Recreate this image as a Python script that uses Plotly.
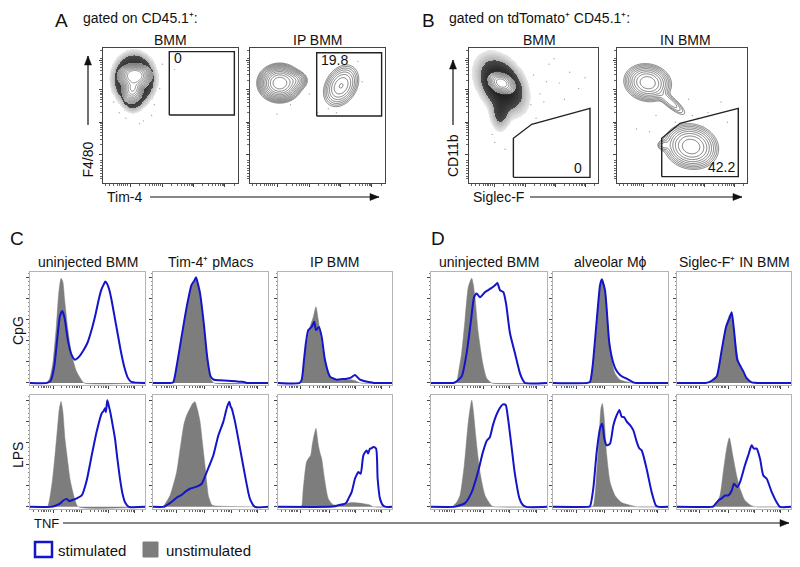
import numpy as np
import plotly.graph_objects as go

# the page is shown with the browser's default 8px body margin, so the figure is
# sized to the visible area and reference pixel positions are shifted by that margin
OFF = 8
W, H = 800 - OFF, 567 - OFF
FONT = "Liberation Sans, Arial, sans-serif"
BLUE = "#1414c8"
GRAY = "#7d7d7d"

# ---------------- flow panels: population parameters (cx, cy, sx, sy, rho, weight) ----------------
A1_core = [(23.5, 79.5, 4.6, 3.3, 0.0, 1.0), (22.0, 70.0, 3.3, 4.4, 0.1, 0.4)]
A1_dots = [(23.0, 77.0, 7.0, 8.5, 0.0, 1.0), (22.0, 62.0, 4.0, 5.0, 0.0, 0.2)]
A2_core = [(22.0, 74.0, 5.5, 4.8, 0.0, 1.0), (33.0, 76.0, 4.0, 3.0, 0.0, 0.12),
           (67.5, 72.0, 5.5, 6.5, 0.3, 0.14)]
B1_core = [(25.3, 74.0, 4.5, 3.4, -0.3, 1.0)]
B1_dots = [(25.0, 73.0, 9.0, 10.0, -0.35, 1.0), (24.0, 52.0, 4.0, 7.0, 0.0, 0.3)]
B2_core = [(23.6, 74.3, 6.5, 5.0, -0.1, 1.0), (41.0, 60.0, 6.0, 5.0, -0.85, 0.1),
           (57.0, 27.0, 7.5, 6.0, -0.1, 1.0), (36.0, 28.0, 2.5, 2.0, 0.0, 0.08)]

# gates
A1_gate_x = [49.1, 97.3, 97.3, 49.1, 49.1]
A1_gate_y = [50.4, 50.4, 97.3, 97.3, 50.4]
A2_gate_x = [49.4, 97.5, 97.5, 49.4, 49.4]
A2_gate_y = [49.6, 49.6, 96.5, 96.5, 49.6]
B1_gate_x = [34.4, 34.4, 48.6, 93.8, 93.8, 34.4]
B1_gate_y = [4.2, 33.1, 43.5, 55.3, 4.2, 4.2]
B2_gate_x = [34.4, 34.4, 48.5, 93.3, 93.3, 34.4]
B2_gate_y = [4.7, 33.1, 44.2, 55.3, 4.7, 4.7]
gate_labels = ["0", "19.8", "0", "42.2"]
gate_label_pos = [(55.3, 92.3), (62.5, 91.0), (84.7, 11.3), (80.5, 12.0)]

# sparse dots
A1_sparse_x = [30, 36, 12, 42, 44, 53, 8, 38, 27, 17]
A1_sparse_y = [46, 50, 52, 70, 88, 84, 60, 58, 44, 48]
A2_sparse_x = [20, 44, 50, 58, 80, 64, 30, 83]
A2_sparse_y = [51, 66, 52, 55, 90, 52, 58, 75]
B1_sparse_x = [50, 55, 62, 70, 78, 85, 58, 66, 48, 74, 90, 20, 28, 18, 52, 60]
B1_sparse_y = [80, 66, 88, 74, 82, 70, 60, 92, 58, 62, 78, 30, 25, 36, 48, 75]
B2_sparse_x = [50, 58, 62, 45, 30, 25, 70, 80, 85, 15, 55, 66]
B2_sparse_y = [55, 50, 48, 45, 50, 38, 52, 60, 45, 40, 62, 42]

# ---------------- histograms (x, y key points) ----------------
C1_cpg_g_x = [0, 14, 17, 20, 23, 25, 27, 28.5, 30, 33, 36, 40, 44, 47, 100]
C1_cpg_g_y = [0, 0, 4, 20, 55, 85, 99, 96, 80, 50, 28, 12, 4, 0, 0]
C1_cpg_b_x = [0, 15, 18, 21, 24, 26, 28, 30, 33, 36, 39, 42, 46, 50, 54, 57, 60, 62, 64, 65.5, 67, 69, 71, 73, 76, 79, 82, 85, 88, 100]
C1_cpg_b_y = [0, 0, 2, 15, 45, 63, 68, 62, 40, 27, 22, 24, 30, 38, 52, 65, 80, 88, 93, 96, 94, 88, 78, 66, 48, 30, 15, 5, 1, 0]
C1_lps_g_x = [0, 15, 17, 19.5, 21.7, 24, 25.5, 27, 28.5, 30.4, 32.5, 34.8, 37, 39, 42, 100]
C1_lps_g_y = [0, 0, 7, 25, 48, 75, 92, 99, 90, 64, 45, 26, 15, 7, 0, 0]
C1_lps_b_x = [0, 18, 22, 26, 29, 31.9, 34, 37, 40.6, 45, 49.3, 53.6, 58, 62.3, 64, 65.2, 66, 67.2, 68.5, 70, 72, 73.9, 76, 78.3, 80.5, 82.6, 86, 100]
C1_lps_b_y = [0, 0, 1, 3, 6, 7.5, 5.5, 6.5, 8, 10.7, 24.8, 48, 70.7, 87.7, 90, 92.5, 89, 100, 95, 88, 76, 64, 45, 26, 12, 4.4, 0, 0]

C2_cpg_g_x = [0, 16, 17.7, 20.6, 24.9, 29.3, 33.6, 36, 37.4, 39, 40.9, 44.3, 47.2, 50.1, 53, 100]
C2_cpg_g_y = [0, 0, 0.5, 15, 43, 72, 92, 97, 99, 93, 84, 53, 22, 4, 0, 0]
C2_cpg_b_x = [0, 16, 17.7, 20.6, 24.9, 29.3, 33.6, 36, 37.4, 39, 40.9, 44.3, 47.2, 50.1, 53, 58, 65, 72, 78, 82, 100]
C2_cpg_b_y = [0, 0, 0.8, 16, 44, 72, 93, 97, 100, 94, 85, 55, 24, 6, 3, 2.5, 2, 1.5, 1, 0, 0]
C2_lps_g_x = [0, 8, 10, 14.8, 17.5, 20.6, 23, 24.9, 27, 29.3, 32, 34.5, 36.5, 38.5, 40.9, 43, 45.2, 47, 48.1, 51, 53, 100]
C2_lps_g_y = [0, 0, 2, 10.7, 20, 32.7, 50, 64, 78, 86, 92, 97, 98.7, 92, 80, 60, 39, 20, 10.7, 2, 1, 0]
C2_lps_b_x = [0, 9, 10.4, 14, 17.7, 21, 24.9, 28.5, 32.2, 35, 38, 42.3, 46.7, 49.5, 52.5, 56.8, 61.2, 63.5, 65, 66.4, 67.5, 68.4, 71.3, 75.7, 80, 84.3, 88.7, 100]
C2_lps_b_y = [0, 0, 0.5, 3, 6, 9, 11.3, 14.5, 17, 18, 19, 21.7, 32.7, 40, 48.4, 67, 80, 90, 95.6, 98.7, 94, 92.5, 80, 54.7, 29.5, 7.5, 0, 0]

C3_cpg_g_x = [0, 19, 20.8, 23.7, 26, 28, 31, 33.3, 35, 36.3, 38, 39.8, 42, 44.2, 48.5, 52, 56, 60, 64, 68, 72, 100]
C3_cpg_g_y = [0, 0, 3, 28, 42, 53, 62.5, 72, 62, 53, 40, 28, 16, 9, 3, 2.5, 2.5, 3, 3, 2, 0, 0]
C3_cpg_b_x = [0, 19, 20.8, 22.8, 24.5, 26.6, 29.5, 31.8, 33.3, 35.9, 38.3, 41.2, 45.6, 51.5, 56, 60.2, 64, 67.5, 71.9, 76.3, 80.7, 84, 100]
C3_cpg_b_y = [0, 0, 3, 21.7, 38, 50, 53, 57.8, 50, 53, 43.7, 21.7, 6, 3, 3.5, 4, 5, 7.5, 3, 1.5, 0.5, 0, 0]
C3_lps_g_x = [0, 19, 20.8, 22, 23.7, 25, 26.6, 28.7, 30, 31, 33.3, 34.5, 35.4, 37, 38.3, 41.2, 44.2, 48.5, 55, 65, 75, 80, 84, 100]
C3_lps_g_y = [0, 0, 1, 15, 32.7, 42, 45.3, 48.4, 58, 64, 73.6, 65, 57.8, 50, 45.3, 23.3, 7.5, 2, 2, 4, 3, 2, 0, 0]
C3_lps_b_x = [0, 45, 50, 54.4, 57.3, 60, 61.7, 64.6, 67.5, 69, 70.5, 72.5, 74.9, 77.8, 79, 80.7, 82, 83.6, 86, 87.4, 89.5, 92.4, 95, 100]
C3_lps_b_y = [0, 0, 0.5, 2, 2.5, 4, 7.5, 13.8, 26.4, 30, 32.7, 31, 48.4, 53, 50, 54.7, 55, 56.3, 54.7, 26.4, 7.5, 1, 0, 0]

D1_cpg_g_x = [0, 18, 22.1, 24, 26.4, 29.3, 32.2, 35.1, 36.5, 37.9, 40.8, 44.6, 48, 52.3, 100]
D1_cpg_g_y = [0, 0, 1.5, 12, 28, 59.4, 91, 99, 93, 81, 47, 18.6, 4.4, 0, 0]
D1_cpg_b_x = [0, 19, 20.7, 26.4, 30.7, 34.5, 37.1, 39.4, 42.2, 46.6, 50.9, 55.2, 57.2, 59.5, 62.4, 64.7, 68.1, 72.4, 76.7, 79, 81, 100]
D1_cpg_b_y = [0, 0, 0.5, 6, 28, 59.4, 81, 84.6, 81, 86, 89, 92.5, 94.6, 87.7, 86, 75, 47, 28, 9, 3, 0, 0]
D1_lps_g_x = [0, 17, 19.2, 22, 25, 28.7, 32.2, 35.1, 36.5, 38.8, 42.2, 46.6, 52.3, 56, 100]
D1_lps_g_y = [0, 0, 1, 4, 10.7, 39, 80, 100, 90, 64, 32.7, 10.7, 1, 0, 0]
D1_lps_b_x = [0, 20, 22.1, 29.3, 35.1, 40.5, 44.8, 48.3, 50.6, 53.4, 56.3, 59.2, 62.1, 64.4, 66.4, 69.3, 72.1, 76.4, 79, 82.2, 100]
D1_lps_b_y = [0, 0, 0.5, 3.5, 13.8, 32.7, 51.6, 62.5, 65, 76.7, 86, 92.5, 96.2, 95.6, 83, 57.8, 32.7, 7.5, 2, 0, 0]

D2_cpg_g_x = [0, 30, 32.2, 35, 38, 40.9, 42.9, 45.2, 48.1, 51, 53.9, 58.3, 64.1, 68, 100]
D2_cpg_g_y = [0, 0, 1, 18.6, 53, 91, 99, 87.7, 50, 21.7, 9, 3, 1, 0, 0]
D2_cpg_b_x = [0, 30, 32.2, 34.4, 38, 40.9, 42.3, 45.2, 49, 52.5, 55, 58.3, 61, 64.1, 69.8, 72, 100]
D2_cpg_b_y = [0, 0, 1, 15.4, 59, 92.5, 98, 87.7, 37.5, 18.6, 12, 7.5, 5.5, 4, 0.5, 0, 0]
D2_lps_g_x = [0, 32, 35, 38, 40, 41.7, 42.9, 44.3, 46.7, 49.6, 53.9, 59.7, 67, 73, 100]
D2_lps_g_y = [0, 0, 1, 32.7, 64, 92.5, 97, 86, 48.4, 23.3, 10.7, 4, 1.5, 0, 0]
D2_lps_b_x = [0, 30, 32.2, 35, 38, 40.9, 42.9, 44.6, 46.7, 49.6, 52.5, 55.4, 57.7, 59.7, 62, 64.1, 67, 69.8, 72.8, 75, 77.1, 81.4, 85.8, 89.6, 92, 100]
D2_lps_b_y = [0, 0, 0.5, 17, 51.6, 73.6, 78, 64, 57.8, 59.4, 76.7, 86, 91, 84.6, 84, 80, 76.7, 72, 61, 55, 53, 35.8, 13.8, 1, 0, 0]

D3_cpg_g_x = [0, 25, 27.5, 31, 34.8, 39.2, 43, 45.9, 47.4, 50.3, 53.8, 58.2, 62.5, 66, 100]
D3_cpg_g_y = [0, 0, 0.5, 2.5, 6, 28, 53, 64, 65.7, 47, 21.7, 9, 3, 0, 0]
D3_cpg_b_x = [0, 25, 27.5, 31, 34.8, 39.2, 43, 46.5, 48, 50, 52.9, 55.9, 58.2, 61.1, 65.5, 70, 100]
D3_cpg_b_y = [0, 0, 0.5, 2.5, 6, 31, 53, 62.5, 67, 50, 21.7, 15.4, 10.7, 4.4, 0.5, 0, 0]
D3_lps_g_x = [0, 31, 33.3, 37.7, 40.6, 43.6, 45.9, 48.9, 52.3, 55.3, 59.6, 65.5, 69, 100]
D3_lps_g_y = [0, 0, 0.5, 10.7, 32.7, 55, 64.8, 48.4, 29.5, 17, 6, 1, 0, 0]
D3_lps_b_x = [0, 30, 31.9, 36.3, 39.2, 42.1, 45, 48, 50, 52.9, 55.3, 59.6, 62.5, 65.5, 67.5, 69.9, 72.8, 75.7, 78.7, 83.1, 87.4, 90.4, 100]
D3_lps_b_y = [0, 0, 0.5, 6, 8, 10.7, 10.7, 15.4, 21.7, 18.6, 23.3, 39, 48.4, 57.8, 54.7, 54.7, 45.3, 29.5, 26.4, 13.8, 4.4, 0, 0]

SUP = "\u207a"
hist_titles_C = ["uninjected BMM", "Tim-4" + SUP + " pMacs", "IP BMM"]
hist_titles_D = ["uninjected BMM", "alveolar M\u03d5", "Siglec-F" + SUP + " IN BMM"]
row_labels = ["CpG", "LPS"]
legend_labels = ["stimulated", "unstimulated"]

# ---------------- layout geometry (reference pixels) ----------------
flow_boxes = {1: (103, 238, 48, 183), 2: (250, 385, 48, 183),
              3: (469, 598, 48, 183), 4: (617, 747, 48, 183)}
hist_cols = [(30, 145), (153, 268), (278, 392), (431, 547), (553, 668), (677, 791)]
hist_rows = [(272, 385), (395, 509)]

def px(x):
    return (x - OFF) / W

def py(y):
    return 1 - (y - OFF) / H

fig = go.Figure()
layout = dict(width=W, height=H, margin=dict(l=0, r=0, t=0, b=0),
              paper_bgcolor="white", plot_bgcolor="white", showlegend=False,
              font=dict(family=FONT, color="#111"))

def log_minor(majors, width, top):
    vals = []
    for d in majors:
        for k in range(2, 10):
            v = d + width * np.log10(k)
            if v < top:
                vals.append(round(float(v), 2))
    return vals

flow_x_major = [20, 44, 67, 90]
flow_y_major = [21, 45, 69, 91]
flow_x_minor = [2, 5, 8, 11, 12.5, 14, 15.5, 17, 18.5] + log_minor(flow_x_major, 23.5, 100)
flow_y_minor = [3, 5, 7, 9, 11, 13, 15, 17] + log_minor(flow_y_major, 24, 100)
hist_x_major = [20, 45, 68, 91]
hist_x_minor = [3, 7, 10, 11.5, 13, 14.5, 16, 17.5] + log_minor(hist_x_major, 24, 100)

def add_axes(i, xd, yd, xr, yr, linecolor, xmaj, xmin, ymaj, ymin_cfg):
    sfx = "" if i == 1 else str(i)
    xa = dict(domain=[max(0, px(xd[0])), min(1, px(xd[1]))], range=xr, showgrid=False,
              zeroline=False, showline=True, mirror=True, linecolor=linecolor, linewidth=1,
              ticks="outside", ticklen=3, tickwidth=1, tickcolor="#444",
              tickmode="array", tickvals=xmaj, showticklabels=False,
              minor=dict(tickmode="array", tickvals=xmin, ticks="outside", ticklen=2,
                         tickcolor="#666", tickwidth=0.8),
              anchor="y" + sfx, fixedrange=True)
    ya = dict(domain=[max(0, py(yd[1])), min(1, py(yd[0]))], range=yr, showgrid=False,
              zeroline=False, showline=True, mirror=True, linecolor=linecolor, linewidth=1,
              ticks="outside", ticklen=3, tickwidth=1, tickcolor="#444",
              tickmode="array", tickvals=ymaj, showticklabels=False,
              minor=ymin_cfg, anchor="x" + sfx, fixedrange=True)
    layout["xaxis" + sfx] = xa
    layout["yaxis" + sfx] = ya
    return ("x" + sfx, "y" + sfx)

gx = np.linspace(0, 100, 251)
gy = np.linspace(0, 100, 251)
GX, GY = np.meshgrid(gx, gy)

def mixture(pops):
    Z = np.zeros_like(GX)
    for cx, cy, sx, sy, rho, w in pops:
        dx = (GX - cx) / sx
        dy = (GY - cy) / sy
        Z += w * np.exp(-(dx * dx - 2 * rho * dx * dy + dy * dy) / (2 * (1 - rho * rho)))
    return np.log(Z / Z.max() + 1e-30)

def shade(xa, ya, field, lo, mid):
    """dot cloud: transparent below lo, light gray up to mid, near black above."""
    z = np.where(field > lo, field, np.nan)
    t = (mid - lo) / (0 - lo)
    cs = [[0, "rgba(170,170,170,0.25)"], [t * 0.999, "rgba(110,110,110,0.55)"],
          [t, "rgba(30,30,30,0.8)"], [1, "rgba(10,10,10,0.95)"]]
    fig.add_trace(go.Heatmap(x=gx, y=gy, z=z, xaxis=xa, yaxis=ya, colorscale=cs,
                             zmin=lo, zmax=0, showscale=False, hoverinfo="skip", zsmooth=False))

def white_core(xa, ya, field, lo):
    z = np.where(field > lo, 1.0, np.nan)
    fig.add_trace(go.Heatmap(x=gx, y=gy, z=z, xaxis=xa, yaxis=ya,
                             colorscale=[[0, "white"], [1, "white"]], zmin=0, zmax=1,
                             showscale=False, hoverinfo="skip", zsmooth=False))

def rings(xa, ya, field, start, end, size, color="#3a3a3a", width=0.7):
    fig.add_trace(go.Contour(x=gx, y=gy, z=field, xaxis=xa, yaxis=ya,
                             contours=dict(start=start, end=end, size=size, coloring="lines"),
                             colorscale=[[0, color], [1, color]], line=dict(width=width),
                             showscale=False, hoverinfo="skip", line_smoothing=1))

def sparse(xa, ya, xs, ys):
    fig.add_trace(go.Scatter(x=xs, y=ys, xaxis=xa, yaxis=ya, mode="markers",
                             marker=dict(size=1.4, color="#a8a8a8"), hoverinfo="skip"))

def gate(xa, ya, xs, ys):
    fig.add_trace(go.Scatter(x=xs, y=ys, xaxis=xa, yaxis=ya, mode="lines",
                             line=dict(color="#222", width=1.4), hoverinfo="skip"))

flow_ymin = dict(tickmode="array", tickvals=flow_y_minor, ticks="outside", ticklen=2,
                 tickcolor="#666", tickwidth=0.8)
flow_axes = {}
for i, (x0, x1, y0, y1) in flow_boxes.items():
    flow_axes[i] = add_axes(i, (x0, x1), (y0, y1), [0, 100], [0, 100], "#444",
                            flow_x_major, flow_x_minor, flow_y_major, flow_ymin)

# A1
xa, ya = flow_axes[1]
sparse(xa, ya, A1_sparse_x, A1_sparse_y)
shade(xa, ya, mixture(A1_dots), -3.4, -2.1)
fc = mixture(A1_core)
white_core(xa, ya, fc, -4.3)
rings(xa, ya, fc, -4.3, -0.4, 0.36, color="#444", width=0.6)
gate(xa, ya, A1_gate_x, A1_gate_y)
# A2
xa, ya = flow_axes[2]
sparse(xa, ya, A2_sparse_x, A2_sparse_y)
fc = mixture(A2_core)
rings(xa, ya, fc, -4.8, -0.4, 0.4, color="#444")
gate(xa, ya, A2_gate_x, A2_gate_y)
# B1
xa, ya = flow_axes[3]
sparse(xa, ya, B1_sparse_x, B1_sparse_y)
shade(xa, ya, mixture(B1_dots), -3.2, -1.6)
fc = mixture(B1_core)
white_core(xa, ya, fc, -3.0)
rings(xa, ya, fc, -3.0, -0.4, 0.37, color="#555")
gate(xa, ya, B1_gate_x, B1_gate_y)
# B2
xa, ya = flow_axes[4]
sparse(xa, ya, B2_sparse_x, B2_sparse_y)
fc = mixture(B2_core)
rings(xa, ya, fc, -4.0, -0.4, 0.45, color="#444")
gate(xa, ya, B2_gate_x, B2_gate_y)

annotations = []
for i, (lab, (lx, ly)) in enumerate(zip(gate_labels, gate_label_pos)):
    xa, ya = flow_axes[i + 1]
    annotations.append(dict(x=lx, y=ly, xref=xa, yref=ya, text=lab, showarrow=False,
                            font=dict(size=14, family=FONT, color="#111")))

# histograms
hist_data = [
    [(C1_cpg_g_x, C1_cpg_g_y, C1_cpg_b_x, C1_cpg_b_y), (C1_lps_g_x, C1_lps_g_y, C1_lps_b_x, C1_lps_b_y)],
    [(C2_cpg_g_x, C2_cpg_g_y, C2_cpg_b_x, C2_cpg_b_y), (C2_lps_g_x, C2_lps_g_y, C2_lps_b_x, C2_lps_b_y)],
    [(C3_cpg_g_x, C3_cpg_g_y, C3_cpg_b_x, C3_cpg_b_y), (C3_lps_g_x, C3_lps_g_y, C3_lps_b_x, C3_lps_b_y)],
    [(D1_cpg_g_x, D1_cpg_g_y, D1_cpg_b_x, D1_cpg_b_y), (D1_lps_g_x, D1_lps_g_y, D1_lps_b_x, D1_lps_b_y)],
    [(D2_cpg_g_x, D2_cpg_g_y, D2_cpg_b_x, D2_cpg_b_y), (D2_lps_g_x, D2_lps_g_y, D2_lps_b_x, D2_lps_b_y)],
    [(D3_cpg_g_x, D3_cpg_g_y, D3_cpg_b_x, D3_cpg_b_y), (D3_lps_g_x, D3_lps_g_y, D3_lps_b_x, D3_lps_b_y)],
]
hist_ymin = dict(tickmode="linear", tick0=0, dtick=4, ticks="outside", ticklen=1.5,
                 tickcolor="#888", tickwidth=0.7)
idx = 5
for c, (cx0, cx1) in enumerate(hist_cols):
    for r, (ry0, ry1) in enumerate(hist_rows):
        xa, ya = add_axes(idx, (cx0, cx1), (ry0, ry1), [0, 100], [-2, 105], "#b4b4b4",
                          hist_x_major, hist_x_minor, [0, 20, 40, 60, 80, 100], hist_ymin)
        idx += 1
        g_x, g_y, b_x, b_y = hist_data[c][r]
        fig.add_trace(go.Scatter(x=g_x, y=g_y, xaxis=xa, yaxis=ya, mode="lines",
                                 fill="tozeroy", fillcolor=GRAY,
                                 line=dict(color=GRAY, width=0.5, shape="spline", smoothing=0.6),
                                 hoverinfo="skip"))
        fig.add_trace(go.Scatter(x=b_x, y=b_y, xaxis=xa, yaxis=ya, mode="lines",
                                 line=dict(color=BLUE, width=2, shape="spline", smoothing=0.6),
                                 hoverinfo="skip"))

def txt(x, y, s, size=13, xanchor="center", angle=0):
    annotations.append(dict(x=px(x), y=py(y), xref="paper", yref="paper", text=s,
                            showarrow=False, xanchor=xanchor, yanchor="middle",
                            textangle=angle, borderpad=0,
                            font=dict(size=size, family=FONT, color="#111")))

shapes = []

def arrow(hx, hy, tx, ty):
    shapes.append(dict(type="line", xref="paper", yref="paper",
                       x0=px(tx), y0=py(ty), x1=px(hx), y1=py(hy),
                       line=dict(color="#111", width=1.2)))
    if hx == tx:  # vertical, pointing up
        pts = [(hx, hy), (hx - 3.5, hy + 9), (hx + 3.5, hy + 9)]
    else:  # horizontal, pointing right
        pts = [(hx, hy), (hx - 9, hy - 3.5), (hx - 9, hy + 3.5)]
    path = "M " + " L ".join(f"{px(a):.5f},{py(b):.5f}" for a, b in pts) + " Z"
    shapes.append(dict(type="path", xref="paper", yref="paper", path=path,
                       fillcolor="#111", line=dict(color="#111", width=0.5)))

txt(61, 20, "A", 19)
txt(82, 18, "gated on CD45.1" + SUP + ":", 14, "left")
txt(170.5, 40, "BMM", 14)
txt(317.5, 40, "IP BMM", 14)
txt(87.5, 160, "F4/80", 14, angle=-90)
txt(106, 197, "Tim-4", 14, "left")
arrow(88, 56, 88, 125)
arrow(379, 197, 150, 197)

txt(428, 20, "B", 19)
txt(448, 18, "gated on tdTomato" + SUP + " CD45.1" + SUP + ":", 14, "left")
txt(539, 40, "BMM", 14)
txt(685, 40, "IN BMM", 14)
txt(453, 156, "CD11b", 14, angle=-90)
txt(472, 197, "Siglec-F", 14, "left")
arrow(453, 60, 453, 125)
arrow(742, 197, 530, 197)

txt(17, 238, "C", 19)
txt(438, 238, "D", 19)
for (cx0, cx1), t in zip(hist_cols[:3], hist_titles_C):
    txt((cx0 + cx1) / 2, 262, t, 14)
for (cx0, cx1), t in zip(hist_cols[3:], hist_titles_D):
    txt((cx0 + cx1) / 2, 262, t, 14)
txt(18, 331, row_labels[0], 14, angle=-90)
txt(18, 455, row_labels[1], 14, angle=-90)
txt(33, 523, "TNF", 13, "left")
arrow(789, 523, 63, 523)

txt(57, 550, legend_labels[0], 15, "left")
txt(165, 550, legend_labels[1], 15, "left")
shapes += [
    dict(type="rect", xref="paper", yref="paper", x0=px(35), x1=px(52), y0=py(557), y1=py(542),
         line=dict(color=BLUE, width=2.5), fillcolor="rgba(0,0,0,0)"),
    dict(type="rect", xref="paper", yref="paper", x0=px(143), x1=px(158), y0=py(557), y1=py(542),
         line=dict(color=GRAY, width=1), fillcolor=GRAY),
]

layout["annotations"] = annotations
layout["shapes"] = shapes
fig.update_layout(**layout)
fig.write_html("out.html")
